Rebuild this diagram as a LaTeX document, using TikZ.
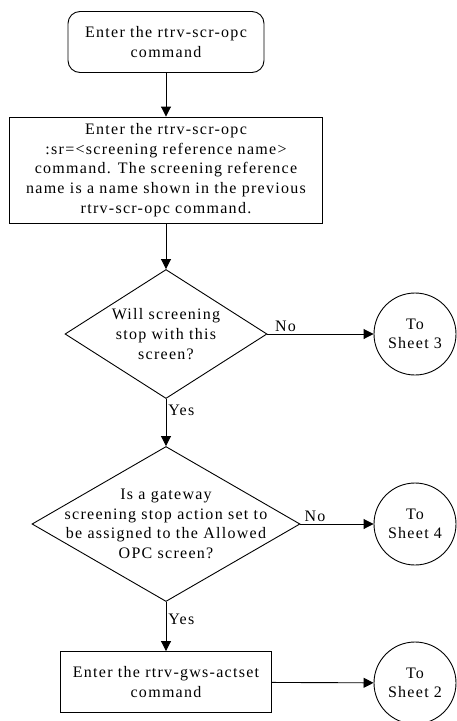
\documentclass[tikz,border=0pt]{standalone}
\usepackage{fontspec}
\setmainfont[LetterSpace=8]{Liberation Serif}
\usepackage{tikz}
\usetikzlibrary{shapes, arrows.meta, positioning}

\begin{document}
\begin{tikzpicture}[
    x=1pt, y=-1pt,
    font=\fontsize{16}{19.6}\selectfont,
    line width=0.9pt,
    term/.style={draw, minimum height=61pt, minimum width=196pt, align=center,
                 rounded corners=12pt, inner sep=2pt},
    proc/.style={draw, align=center, inner sep=2pt},
    decision/.style={draw, diamond, inner sep=0pt},
    qtext/.style={align=center, inner sep=0pt},
    sheet/.style={draw, circle, minimum size=82pt, align=center, inner sep=0pt},
    arr/.style={-{Triangle[length=10pt, width=10pt]}},
    elab/.style={inner sep=2pt}
]
\useasboundingbox (0,0) rectangle (457,721);

% Main vertical spine
\node[term]     (start) at (166, 42)  {Enter the rtrv-scr-opc\\command};
\node[proc, minimum width=313pt, minimum height=106pt]
                (opc)   at (166, 170) {Enter the rtrv-scr-opc\\:sr=<screening reference name>\\command. The screening reference\\name is a name shown in the previous\\rtrv-scr-opc command.};
\node[decision, minimum width=202pt, minimum height=129pt,
      label={[qtext]center:Will screening\\stop with this\\screen?}]
                (stop)  at (166, 334) {};
\node[decision, minimum width=268pt, minimum height=155pt,
      label={[qtext]center:Is a gateway\\screening stop action set to\\be assigned to the Allowed\\OPC screen?}]
                (gws)   at (166, 524) {};
\node[proc, minimum width=211pt, minimum height=61pt]
                (actset) at (166, 682) {Enter the rtrv-gws-actset\\command};

% Off-page connectors on the right
\node[sheet] (sheet3) at (415, 334) {To\\Sheet 3};
\node[sheet] (sheet4) at (415, 524) {To\\Sheet 4};
\node[sheet] (sheet2) at (415, 683) {To\\Sheet 2};

% Flow
\draw[arr] (start) -- (opc);
\draw[arr] (opc) -- (stop);
\draw[arr] (stop) -- node[right, elab, pos=0.25]{Yes} (gws);
\draw[arr] (gws) -- node[right, elab, pos=0.35]{Yes} (actset);

% No branches
\draw[arr] (stop.east) -- node[above, elab, pos=0.17]{No} (sheet3);
\draw[arr] (gws.east) -- node[above, elab, pos=0.2]{No} (sheet4);
\draw[arr] (actset) -- (sheet2);

\end{tikzpicture}
\end{document}
